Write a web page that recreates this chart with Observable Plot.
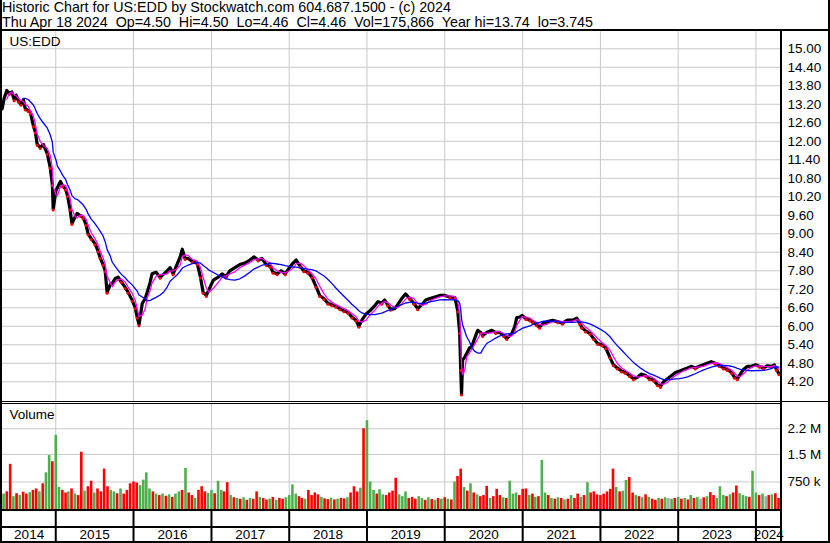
<!DOCTYPE html>
<html><head><meta charset="utf-8">
<script src="https://cdn.jsdelivr.net/npm/d3@7"></script>
<script src="https://cdn.jsdelivr.net/npm/@observablehq/plot@0.6"></script>
<style>
body{margin:0;background:#fff;font-family:Arial,"Liberation Sans",sans-serif;}
#wrap{position:relative;width:830px;height:543px;overflow:hidden;background:#fff;}
#title{position:absolute;left:2px;top:0px;font-size:14.3px;line-height:15px;color:#000;white-space:pre;}
.panel{position:absolute;left:0;}
.b{position:absolute;background:#000;}
</style></head><body>
<div id="wrap">
<div id="title">Historic Chart for US:EDD by Stockwatch.com 604.687.1500 - (c) 2024
Thu Apr 18 2024  Op=4.50  Hi=4.50  Lo=4.46  Cl=4.46  Vol=175,866  Year hi=13.74  lo=3.745</div>
<div id="price" class="panel" style="top:31px"></div>
<div id="vol" class="panel" style="top:404px"></div>
<div id="years" class="panel" style="top:510px"></div>
<div class="b" style="left:0;top:29px;width:830px;height:2px"></div>
<div class="b" style="left:0;top:0;width:2px;height:543px"></div>
<div class="b" style="left:780px;top:29px;width:2px;height:514px"></div>
<div class="b" style="left:828px;top:0;width:2px;height:543px"></div>
<div class="b" style="left:0;top:401px;width:830px;height:1px"></div>
<div class="b" style="left:0;top:403px;width:781px;height:1px"></div>
<div class="b" style="left:0;top:509px;width:781px;height:2px"></div>
<div class="b" style="left:0;top:526px;width:781px;height:2px"></div>
<div class="b" style="left:0;top:541px;width:830px;height:2px"></div>
</div>
<script>
// ---------- data ----------
const yearLabels = [2014,2015,2016,2017,2018,2019,2020,2021,2022,2023,2024];
const priceTicks = [4.2,4.8,5.4,6.0,6.6,7.2,7.8,8.4,9.0,9.6,10.2,10.8,11.4,12.0,12.6,13.2,13.8,14.4,15.0];
const volTicks = [750000,1500000,2200000];

const priceDates = ["2014-04-24","2014-05-04","2014-05-16","2014-05-27","2014-06-09","2014-06-20","2014-06-29","2014-07-10","2014-07-22","2014-08-02","2014-08-11","2014-08-25","2014-09-04","2014-09-18","2014-09-27","2014-10-06","2014-10-20","2014-11-04","2014-11-22","2014-12-06","2014-12-16","2014-12-20",
"2015-01-02","2015-01-09","2015-01-23","2015-02-02","2015-02-16","2015-02-25","2015-03-09","2015-03-18","2015-04-02","2015-04-11","2015-04-25","2015-05-09","2015-05-23","2015-06-02","2015-06-16","2015-07-04","2015-07-18","2015-07-28","2015-08-11","2015-08-21","2015-08-30","2015-09-14","2015-09-23","2015-10-07","2015-10-21","2015-11-04","2015-11-23","2015-12-07","2015-12-26",
"2016-01-09","2016-01-18","2016-01-27","2016-02-11","2016-02-25","2016-03-05","2016-03-18","2016-03-28","2016-04-16","2016-05-05","2016-05-23","2016-06-07","2016-06-21","2016-07-05","2016-07-23","2016-08-07","2016-08-17","2016-08-30","2016-09-14","2016-10-03","2016-10-26","2016-11-10","2016-11-23","2016-12-08","2016-12-21",
"2017-01-10","2017-02-03","2017-02-21","2017-03-10","2017-03-28","2017-04-21","2017-05-14","2017-06-07","2017-06-30","2017-07-19","2017-08-08","2017-08-26","2017-09-15","2017-10-03","2017-10-17","2017-11-05","2017-11-24","2017-12-13",
"2018-01-02","2018-01-19","2018-02-03","2018-02-21","2018-03-10","2018-03-29","2018-04-17","2018-05-06","2018-05-24","2018-06-12","2018-07-01","2018-07-20","2018-08-08","2018-08-27","2018-09-15","2018-10-04","2018-10-22","2018-11-10","2018-11-24","2018-12-08","2018-12-28",
"2019-01-15","2019-02-08","2019-02-22","2019-03-11","2019-03-25","2019-04-08","2019-04-22","2019-05-11","2019-05-25","2019-06-13","2019-07-01","2019-07-20","2019-08-09","2019-08-27","2019-09-16","2019-10-04","2019-10-23","2019-11-16","2019-12-09",
"2020-01-02","2020-01-25","2020-02-18","2020-03-02","2020-03-11","2020-03-16","2020-03-20","2020-03-25","2020-04-04","2020-04-13","2020-04-27","2020-05-06","2020-05-20","2020-06-04","2020-06-18","2020-06-27","2020-07-16","2020-08-09","2020-08-27","2020-09-16","2020-10-04","2020-10-18","2020-11-02","2020-11-11","2020-11-25","2020-12-04","2020-12-18","2020-12-29",
"2021-01-16","2021-02-04","2021-02-18","2021-03-07","2021-03-21","2021-04-09","2021-04-28","2021-05-21","2021-06-14","2021-07-07","2021-07-30","2021-08-23","2021-09-12","2021-09-26","2021-10-05","2021-10-23","2021-11-12","2021-11-30","2021-12-19",
"2022-01-07","2022-01-26","2022-02-14","2022-03-03","2022-03-21","2022-04-10","2022-04-28","2022-05-17","2022-06-05","2022-06-24","2022-07-12","2022-08-01","2022-08-19","2022-09-08","2022-09-26","2022-10-10","2022-10-24","2022-11-12","2022-12-01","2022-12-19",
"2023-01-08","2023-01-26","2023-02-14","2023-03-03","2023-03-22","2023-04-10","2023-04-29","2023-05-17","2023-06-05","2023-06-24","2023-07-13","2023-08-01","2023-08-20","2023-09-08","2023-09-22","2023-10-06","2023-10-20","2023-11-03","2023-11-22","2023-12-11","2023-12-30",
"2024-01-17","2024-02-06","2024-02-24","2024-03-13","2024-03-27","2024-04-06","2024-04-18"];
const priceClose = [13.05,13.4,13.65,13.55,13.6,13.35,13.5,13.3,13.2,13.35,13.05,13.0,12.93,12.5,12.3,11.9,11.8,11.9,11.6,11.15,10.6,9.8,
10.4,10.5,10.7,10.56,10.45,10.24,9.8,9.33,9.55,9.66,9.6,9.53,9.3,9.0,8.85,8.68,8.45,8.23,8.0,7.8,7.1,7.35,7.39,7.55,7.59,7.45,7.26,7.1,6.84,
6.6,6.3,6.05,6.74,6.9,7.1,7.4,7.7,7.75,7.59,7.7,7.8,7.9,7.7,8.0,8.25,8.5,8.2,8.2,8.1,8.04,7.6,7.1,7.0,7.2,
7.5,7.6,7.7,7.6,7.8,7.9,8.0,8.05,8.15,8.25,8.15,8.2,8.0,7.95,7.75,7.7,7.8,7.7,
7.9,8.05,8.15,7.95,7.8,7.75,7.6,7.3,7.0,6.9,6.75,6.7,6.65,6.57,6.5,6.45,6.3,6.2,6.0,6.2,6.4,
6.5,6.68,6.8,6.75,6.85,6.7,6.55,6.57,6.7,6.9,7.05,6.9,6.75,6.57,6.7,6.85,6.9,6.95,7.0,
7.0,6.95,6.93,6.5,5.8,4.6,3.8,4.9,5.0,5.12,5.3,5.32,5.6,5.87,5.8,5.7,5.8,5.87,5.8,5.8,5.7,5.6,5.7,5.77,6.0,6.28,6.3,6.35,
6.25,6.2,6.13,6.05,5.97,6.1,6.15,6.19,6.15,6.1,6.2,6.2,6.26,6.1,5.97,5.85,5.77,5.6,5.44,
5.4,5.3,5.0,4.75,4.65,4.55,4.5,4.4,4.3,4.35,4.45,4.4,4.3,4.25,4.1,4.05,4.2,4.3,4.4,4.5,
4.55,4.6,4.65,4.7,4.65,4.7,4.75,4.8,4.85,4.8,4.73,4.65,4.6,4.5,4.35,4.3,4.45,4.6,4.7,4.7,4.75,
4.7,4.65,4.72,4.7,4.75,4.6,4.46];

// volume: half-monthly bars (1st and 16th of each month, May 2014 - Apr 2024), in thousands of shares
const volValuesK = [
// 2014 May-Dec
420,480,1230,350,430,380,470,420,460,520,560,480,700,1000,1470,1300,
// 2015
2020,600,520,450,480,560,420,380,1560,500,620,770,450,560,480,1100,620,520,480,430,560,420,520,700,
// 2016
750,720,650,800,1000,560,480,420,380,420,360,400,330,420,480,520,1120,450,380,300,520,620,480,440,
// 2017
520,430,770,520,480,730,380,320,300,280,320,250,300,280,480,330,300,260,280,330,250,300,280,320,
// 2018
380,670,420,350,300,280,520,380,450,400,330,290,270,310,260,280,300,290,320,450,620,480,580,2200,
// 2019
2420,750,520,420,540,400,380,450,500,850,400,350,480,300,330,280,350,300,250,320,270,250,300,280,
// 2020
320,280,260,750,900,1100,600,500,700,450,400,350,380,630,300,350,550,380,320,300,770,420,450,380,
// 2021
550,560,380,420,330,350,1340,450,380,300,280,320,300,260,280,380,300,420,330,380,730,450,480,400,
// 2022
380,420,480,550,1100,600,480,500,790,870,450,380,350,320,400,330,280,250,300,280,320,300,280,300,
// 2023
330,280,300,260,380,300,330,280,320,350,460,380,300,620,380,350,400,450,640,430,380,350,330,1040,
// 2024 Jan-Apr
450,380,420,350,380,400,430,300];
// colour code per bar: g = up, r = down, n = unchanged
const volColors = (
"grrgrgrrgrrgrggr" +
"ggrrgrgrrgrrgrrrrggrgrrr" +
"rrggggrgrgrgrggrgrrgrrrg" +
"grggrrgrgrgrgrrgrrgrgrrg" +
"gggrrgrrrrgrrgrgrrgrrrgr" +
"gggrggrrrrgggrrrggrgrgrg" +
"rgrgrrgrgrgrrrgrrrgrgggr" +
"rrgrgrggrgrgrgrgrrgrgrrr" +
"rrrrrgrggrrgrgrgrrgrgngr" +
"grgrgrgnrgrrgggrgrrgggrg" +
"grgnrgrr").split("");
const volDates = [];
for (let y = 2014; y <= 2024; y++) for (let m = 1; m <= 12; m++) {
  if ((y === 2014 && m < 5) || (y === 2024 && m > 4)) continue;
  const mm = String(m).padStart(2, "0");
  volDates.push(`${y}-${mm}-01`, `${y}-${mm}-16`);
}

// ---------- build ----------
const parse = d3.utcParse("%Y-%m-%d");
const xDomain = [parse("2014-04-26"), parse("2024-04-30")];
const yearStarts = yearLabels.slice(1).map(y => new Date(Date.UTC(y, 0, 1)));
const yearInfo = yearLabels.map(y => {
  const s = Math.max(+xDomain[0], Date.UTC(y, 0, 1));
  const e = Math.min(+xDomain[1], Date.UTC(y + 1, 0, 1));
  return {label: String(y), mid: new Date((s + e) / 2)};
});
const priceData = priceDates.map((d, i) => ({date: parse(d), close: priceClose[i]}));
const downs = priceData.filter((d, i) => i > 0 && d.close < priceData[i - 1].close);
const volData = volDates.map((d, i) => ({date: parse(d), v: volValuesK[i] * 1000, c: volColors[i] || "n"}));

const font = "Arial, 'Liberation Sans', sans-serif";
const common = {width: 830, marginLeft: 2, marginRight: 49, marginTop: 0,
  style: {fontFamily: font, fontSize: "13px", color: "#000", background: "transparent", overflow: "visible"}};
const xOpt = {type: "utc", domain: xDomain, axis: null};
const grid = "#c8c8c8";

const price = Plot.plot({...common, height: 370, marginBottom: 0,
  x: xOpt, y: {domain: [3.56, 15.561], axis: null},
  marks: [
    Plot.ruleY(priceTicks, {stroke: grid}),
    Plot.ruleX(yearStarts, {stroke: grid}),
    Plot.axisY(priceTicks, {anchor: "right", label: null, tickSize: 0, tickPadding: 6, tickFormat: d => d.toFixed(2), fontSize: 13.5}),
    Plot.lineY(priceData, {x: "date", y: "close", stroke: "black", strokeWidth: 3.2}),
    Plot.dot(downs, {x: "date", y: "close", r: 1.5, fill: "red", dy: 1}),
    Plot.lineY(priceData, Plot.windowY({k: 3, anchor: "end", strict: true}, {x: "date", y: "close", stroke: "#ff00ff", strokeWidth: 1.3})),
    Plot.lineY(priceData, Plot.windowY({k: 10, anchor: "end", strict: true}, {x: "date", y: "close", stroke: "#0000ff", strokeWidth: 1.3})),
    Plot.text(["US:EDD"], {frameAnchor: "top-left", lineAnchor: "middle", dx: 7, dy: 10, textAnchor: "start", fontSize: 13.5})
  ]});
document.getElementById("price").append(price);

const vol = Plot.plot({...common, height: 106, marginBottom: 1,
  x: xOpt, y: {domain: [0, 2860000], axis: null},
  color: {domain: ["g", "r", "n"], range: ["#4cb04c", "#ff0000", "#a8a8a8"]},
  marks: [
    Plot.ruleY(volTicks, {stroke: grid}),
    Plot.ruleX(yearStarts, {stroke: grid}),
    Plot.axisY(volTicks, {anchor: "right", label: null, tickSize: 0, tickPadding: 6, fontSize: 13.5,
      tickFormat: v => v >= 1e6 ? (v / 1e6).toFixed(1) + " M" : (v / 1e3) + " k"}),
    Plot.ruleX(volData, {x: "date", y: "v", stroke: "c", strokeWidth: 2.6}),
    Plot.text(["Volume"], {frameAnchor: "top-left", lineAnchor: "middle", dx: 7, dy: 10, textAnchor: "start", fontSize: 13.5})
  ]});
document.getElementById("vol").append(vol);

const years = Plot.plot({...common, height: 33, marginBottom: 0,
  x: xOpt, y: {domain: [0, 1], axis: null},
  marks: [
    Plot.ruleX(yearStarts, {stroke: "black", strokeWidth: 2}),
    Plot.text(yearInfo, {x: "mid", text: "label", frameAnchor: "middle", dy: 8, fontSize: 13.5})
  ]});
document.getElementById("years").append(years);
</script>
</body></html>
